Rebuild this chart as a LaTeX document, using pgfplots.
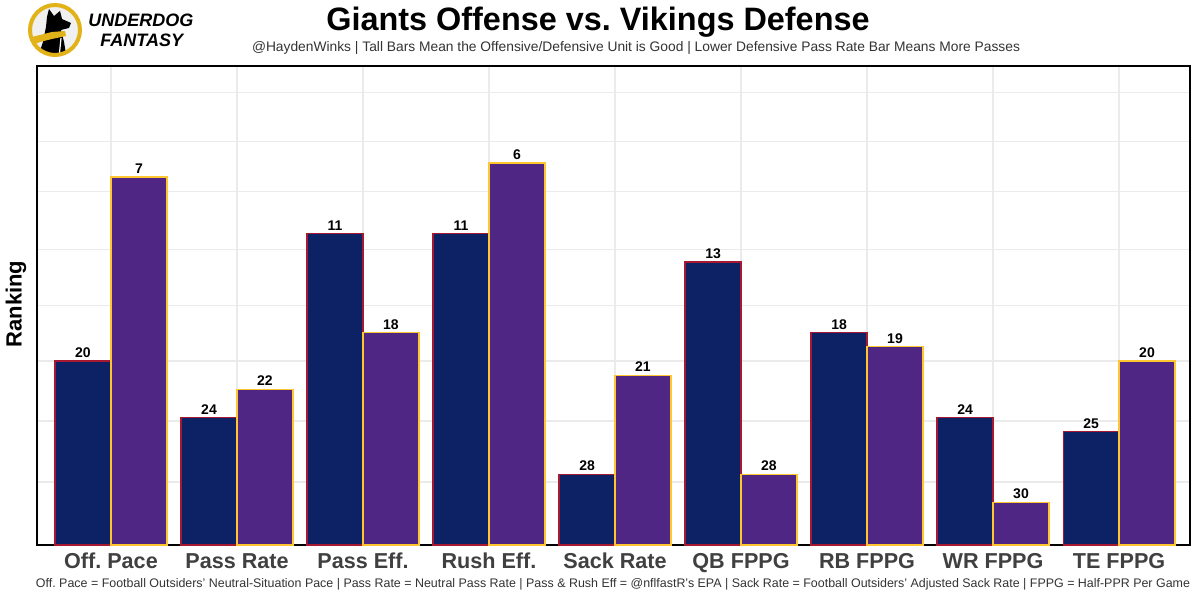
\documentclass[border=0pt]{standalone}
\usepackage{pgfplots}
\pgfplotsset{compat=1.18}
\usepackage{pgfplotstable}
\usepackage{fontspec}
\setmainfont{Liberation Sans}
\frenchspacing
\definecolor{navy}{HTML}{0C2265}
\definecolor{vpurple}{HTML}{4F2683}
\definecolor{redge}{HTML}{A71930}
\definecolor{gold}{HTML}{FFC62F}
\definecolor{logogold}{HTML}{E2B219}
\definecolor{gridgray}{HTML}{EBEBEB}
\definecolor{labgray}{HTML}{404040}
\definecolor{footgray}{HTML}{333333}

% x = category index, h = 33 - rank (bar height), r = rank
\pgfplotstableread{
x h r
0 13 20
1 9 24
2 22 11
3 22 11
4 5 28
5 20 13
6 15 18
7 9 24
8 8 25
}\giants
\pgfplotstableread{
x h r
0 26 7
1 11 22
2 15 18
3 27 6
4 12 21
5 5 28
6 14 19
7 3 30
8 13 20
}\vikings

\begin{document}
\begin{tikzpicture}
\begin{scope}[x=0.5pt,y=-0.5pt,yshift=300pt]
\path[use as bounding box] (0,0) rectangle (1200,600);
% logo
\fill[white!94!black] (55,30) circle (26);
\begin{scope}
\clip (55,30) circle (26);
\fill[black] (49,9) -- (54,16) -- (60,11) -- (62,19) -- (71,23) -- (69,28) -- (61,30) -- (64,42) -- (67,60) -- (37,60) -- (43,42) -- (46,27) -- (47,17) -- cycle;
\fill[logogold] (28,38) -- (40,35) -- (52,32) -- (65,31) -- (66,36) -- (52,39) -- (40,42) -- (28,47) -- cycle;
\draw[white, line width=0.6pt] (61,38) -- (59,58);
\end{scope}
\draw[logogold, line width=2pt] (55,30) circle (25);
\node[anchor=base west, inner sep=0pt, font=\bfseries\itshape\fontsize{9}{10}\selectfont] at (88,27) {UNDERDOG};
\node[anchor=base west, inner sep=0pt, font=\bfseries\itshape\fontsize{9}{10}\selectfont] at (100,47) {FANTASY};
% titles
\node[anchor=base, inner sep=0pt, font=\bfseries\fontsize{16.2}{18}\selectfont] at (598,31) {Giants Offense vs. Vikings Defense};
\node[anchor=base, inner sep=0pt, font=\fontsize{6.9}{8}\selectfont, text=footgray] at (636,52) {@HaydenWinks | Tall Bars Mean the Offensive/Defensive Unit is Good | Lower Defensive Pass Rate Bar Means More Passes};
\node[anchor=base, inner sep=0pt, font=\fontsize{6.22}{8}\selectfont, text=footgray] at (613,588) {Off. Pace = Football Outsiders' Neutral-Situation Pace | Pass Rate = Neutral Pass Rate | Pass \& Rush Eff = @nflfastR's EPA | Sack Rate = Football Outsiders' Adjusted Sack Rate | FPPG = Half-PPR Per Game};
\node[rotate=90, inner sep=0pt, font=\bfseries\fontsize{11}{12}\selectfont] at (16,304) {Ranking};
\end{scope}

\begin{axis}[
  at={(18.5pt,27.5pt)}, anchor=south west,
  width=576.5pt, height=239.5pt, scale only axis,
  xmin=-0.587, xmax=8.563, ymin=0, ymax=33.85,
  xtick={0,...,8},
  xticklabels={Off. Pace, Pass Rate, Pass Eff., Rush Eff., Sack Rate, QB FPPG, RB FPPG, WR FPPG, TE FPPG},
  ytick={4.45,8.76,13,16.9,20.9,25,28.5,32}, yticklabels={},
  major tick length=0,
  xmajorgrids, ymajorgrids,
  grid style={color=gridgray, line width=0.6pt},
  axis line style={black, line width=0.6pt},
  xticklabel style={font=\bfseries\fontsize{10.8}{12}\selectfont, text=labgray, anchor=base, inner sep=0pt, yshift=-11.5pt},
  /pgf/number format/assume math mode=true,
  ybar, bar width=0.444,
  nodes near coords, point meta=explicit,
  nodes near coords style={font=\bfseries\fontsize{7}{8}\selectfont, anchor=south, inner sep=0pt, yshift=1.5pt, text=black},
]
\addplot[fill=navy, draw=redge, line width=0.6pt, bar shift=-0.222] table[x=x, y=h, meta=r] {\giants};
\addplot[fill=vpurple, draw=gold, line width=0.6pt, bar shift=0.222] table[x=x, y=h, meta=r] {\vikings};
\end{axis}
\end{tikzpicture}
\end{document}
